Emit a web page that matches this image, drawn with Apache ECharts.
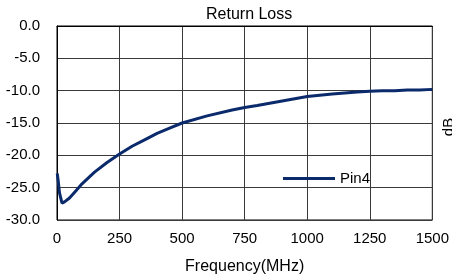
<!DOCTYPE html>
<html>
<head>
<meta charset="utf-8">
<script src="https://cdn.jsdelivr.net/npm/echarts@6/dist/echarts.min.js"></script>
<style>
  html, body { margin: 0; padding: 0; background: #fff; }
  #returnLoss { width: 452px; height: 280px; }
</style>
</head>
<body>
<div id="returnLoss"></div>
<script>
// frequency (MHz) and return loss (dB)
var freq = [1, 5, 10, 20, 30, 50, 75, 100, 150, 200, 250, 300, 350, 400, 450, 500,
            600, 700, 750, 800, 900, 1000, 1100, 1200, 1250, 1300, 1350, 1400, 1450, 1500];
var pin4 = [-22.8, -24.0, -25.8, -27.4, -27.2, -26.6, -25.5, -24.4, -22.6, -21.1, -19.8, -18.6, -17.6, -16.6, -15.8, -15.0,
            -13.9, -13.0, -12.6, -12.3, -11.6, -10.9, -10.5, -10.2, -10.1, -10.0, -10.0, -9.9, -9.9, -9.8];
var xTicks = [0, 250, 500, 750, 1000, 1250, 1500];
var yTicks = [-30, -25, -20, -15, -10, -5, 0];

var font = 'Liberation Sans, Arial, sans-serif';
var points = freq.map(function (f, i) { return [f, pin4[i]]; });

var option = {
    animation: false,
    grid: {
        left: 57,
        right: 15,
        top: 26,
        bottom: 54,
        show: true,
        borderColor: '#000',
        borderWidth: 1
    },
    //标题
    graphic: [
        {
            type: 'text',
            left: 206,
            top: 7,
            style: { text: 'Return Loss', font: '16px ' + font, fill: '#000' }
        },
        {
            type: 'text',
            x: 449,
            y: 127,
            rotation: Math.PI / 2,
            style: { text: 'dB', font: '15px ' + font, fill: '#000', align: 'center', verticalAlign: 'middle' }
        }
    ],
    legend: {
        data: ['Pin4'],
        left: 278,
        top: 166,
        icon: 'rect',
        itemWidth: 52,
        itemHeight: 3,
        itemGap: 5,
        textStyle: { fontFamily: font, fontSize: 15, color: '#000', padding: [0, 0, 0, 0] }
    },
    // x轴
    xAxis: {
        type: 'value',
        min: xTicks[0],
        max: xTicks[xTicks.length - 1],
        interval: 250,
        name: 'Frequency(MHz)',
        nameLocation: 'middle',
        nameGap: 39,
        nameTextStyle: { fontFamily: font, fontSize: 16, color: '#000' },
        axisLine: { lineStyle: { color: '#000', width: 1 } },
        axisTick: { show: false },
        axisLabel: {
            fontFamily: font,
            fontSize: 15,
            color: '#000',
            margin: 11,
            showMaxLabel: true,
            formatter: function (v) { return String(v); }
        },
        splitLine: { lineStyle: { color: '#3a3a3a', width: 1 } }
    },
    // y轴
    yAxis: {
        type: 'value',
        min: yTicks[0],
        max: yTicks[yTicks.length - 1],
        interval: 5,
        axisLine: { show: true, lineStyle: { color: '#000', width: 1 } },
        axisTick: { show: false },
        axisLabel: {
            fontFamily: font,
            fontSize: 15,
            color: '#000',
            margin: 17,
            formatter: function (v) { return v.toFixed(1); }
        },
        splitLine: { lineStyle: { color: '#3a3a3a', width: 1 } }
    },
    series: [
        {
            name: 'Pin4',
            type: 'line',
            symbol: 'none',
            color: '#0b2a6b',
            lineStyle: { width: 3, color: '#0b2a6b' },
            data: points
        }
    ]
};
var chart = echarts.init(document.getElementById('returnLoss'));
chart.setOption(option);
</script>
</body>
</html>
